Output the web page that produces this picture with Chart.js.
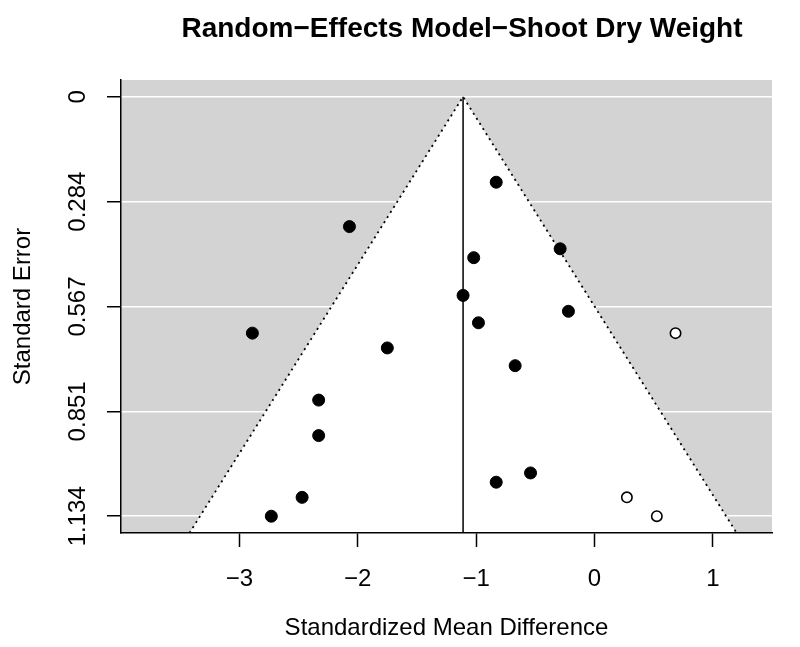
<!DOCTYPE html>
<html>
<head>
<meta charset="utf-8">
<script src="https://cdn.jsdelivr.net/npm/chart.js@4"></script>
<style>
  html, body { margin: 0; padding: 0; background: #fff; }
</style>
</head>
<body>
<canvas id="funnel" width="800" height="647"></canvas>
<script>
// observed studies: standardized mean difference and its standard error
const studyEffects = [-0.83, -2.07, -0.29, -1.02, -1.11, -0.22, -0.98, -2.89, -1.75, -0.67, -2.33, -2.33, -0.54, -0.83, -2.47, -2.73];
const studySE = [0.231, 0.351, 0.411, 0.435, 0.537, 0.580, 0.611, 0.639, 0.679, 0.727, 0.820, 0.916, 1.017, 1.042, 1.083, 1.134];

// studies imputed by trim-and-fill (open circles)
const filledEffects = [0.685, 0.274, 0.527];
const filledSE = [0.639, 1.083, 1.134];

// pooled random-effects estimate and pseudo-CI multiplier
const pooledEffect = -1.11;
const zCrit = 1.96;

const xTicks = [-3, -2, -1, 0, 1];
const xTickLabels = ['\u22123', '\u22122', '\u22121', '0', '1'];
const yTicks = [0, 0.2835, 0.567, 0.8505, 1.134];
const yTickLabels = ['0', '0.284', '0.567', '0.851', '1.134'];

const mainTitle = 'Random\u2212Effects Model\u2212Shoot Dry Weight';

const X_MIN = -4, X_MAX = 1.5;
const Y_MIN = -0.04536, Y_MAX = 1.17936;

const FONT = '"Liberation Sans", Arial, Helvetica, sans-serif';
Chart.defaults.font.family = FONT;
Chart.defaults.color = '#000';

const toPoints = (xs, ys) => xs.map((x, i) => ({ x, y: ys[i] }));

// funnel edges run from the apex at se = 0 to the bottom of the panel
const funnel = [
    { x: pooledEffect - zCrit * Y_MAX, y: Y_MAX },
    { x: pooledEffect, y: 0 },
    { x: pooledEffect + zCrit * Y_MAX, y: Y_MAX }
];

// grey panel behind everything, main title on top
const panel = {
    id: 'panel',
    beforeDraw(chart) {
        const { ctx, chartArea: a } = chart;
        ctx.save();
        ctx.fillStyle = '#d3d3d3';
        ctx.fillRect(a.left, a.top, a.right - a.left, a.bottom - a.top);
        ctx.restore();
    },
    afterDraw(chart) {
        const { ctx } = chart;
        ctx.save();
        ctx.font = 'bold 28px ' + FONT;
        ctx.fillStyle = '#000';
        ctx.textAlign = 'center';
        ctx.textBaseline = 'alphabetic';
        ctx.fillText(mainTitle, 462, 37);
        ctx.restore();
    }
};

new Chart(document.getElementById('funnel'), {
    type: 'scatter',
    data: {
        datasets: [
            {
                label: 'funnel',
                data: funnel,
                showLine: true,
                fill: { value: Y_MAX },
                backgroundColor: '#ffffff',
                borderColor: '#000',
                borderWidth: 1.8,
                borderDash: [2, 4],
                pointRadius: 0,
                tension: 0,
                order: 3
            },
            {
                label: 'estimate',
                data: [{ x: pooledEffect, y: 0 }, { x: pooledEffect, y: Y_MAX }],
                showLine: true,
                borderColor: '#000',
                borderWidth: 1.5,
                pointRadius: 0,
                order: 2
            },
            {
                label: 'filled',
                data: toPoints(filledEffects, filledSE),
                pointRadius: 5.2,
                pointBorderWidth: 1.6,
                pointBackgroundColor: '#ffffff',
                pointBorderColor: '#000',
                order: 1
            },
            {
                label: 'studies',
                data: toPoints(studyEffects, studySE),
                pointRadius: 6,
                pointBorderWidth: 1,
                pointBackgroundColor: '#000',
                pointBorderColor: '#000',
                order: 0
            }
        ]
    },
    options: {
        responsive: false,
        animation: false,
        layout: { padding: { left: 0, right: 28, top: 80, bottom: 0 } },
        plugins: {
            legend: { display: false },
            tooltip: { enabled: false },
            title: { display: false }
        },
        scales: {
            x: {
                type: 'linear',
                min: X_MIN,
                max: X_MAX,
                afterBuildTicks: s => { s.ticks = xTicks.map(v => ({ value: v })); },
                afterFit: s => { s.height = 114; },
                grid: { drawOnChartArea: false, drawTicks: true, tickLength: 14, tickColor: '#000', tickWidth: 1.5 },
                border: { display: true, color: '#000', width: 1.5, z: 1 },
                ticks: {
                    autoSkip: false,
                    maxRotation: 0,
                    padding: 18,
                    font: { size: 24 },
                    callback: (v, i) => xTickLabels[i]
                },
                title: {
                    display: true,
                    text: 'Standardized Mean Difference',
                    font: { size: 24, lineHeight: 1.2 },
                    padding: { top: 0, bottom: 4.6 }
                }
            },
            y: {
                type: 'linear',
                reverse: true,
                min: Y_MIN,
                max: Y_MAX,
                afterBuildTicks: s => { s.ticks = yTicks.map(v => ({ value: v })); },
                afterFit: s => { s.width = 121; },
                grid: { color: '#ffffff', lineWidth: 1.5, drawTicks: true, tickLength: 14, tickColor: '#000', tickWidth: 1.5 },
                border: { display: true, color: '#000', width: 1.5, z: 1 },
                ticks: {
                    autoSkip: false,
                    minRotation: 90,
                    maxRotation: 90,
                    crossAlign: 'center',
                    padding: -1,
                    font: { size: 24 },
                    callback: (v, i) => yTickLabels[i]
                },
                title: {
                    display: true,
                    text: 'Standard Error',
                    font: { size: 24, lineHeight: 1.2 },
                    padding: { top: 9, bottom: 0 }
                }
            }
        }
    },
    plugins: [panel]
});
</script>
</body>
</html>
